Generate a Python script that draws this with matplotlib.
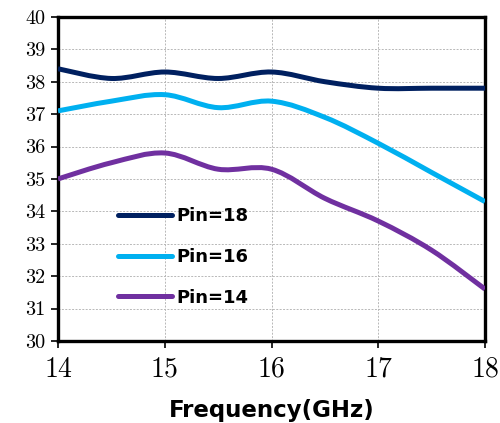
import numpy as np
import matplotlib.pyplot as plt
from matplotlib.path import Path
from matplotlib.patches import PathPatch
from matplotlib.lines import Line2D

# frequency points (GHz)
freq = [14, 14.5, 15, 15.5, 16, 16.5, 17, 17.5, 18]

# output power for each input power level
pin18 = [38.4, 38.1, 38.3, 38.1, 38.3, 38.0, 37.8, 37.8, 37.8]
pin16 = [37.1, 37.4, 37.6, 37.2, 37.4, 36.9, 36.1, 35.2, 34.3]
pin14 = [35.0, 35.5, 35.8, 35.3, 35.3, 34.4, 33.7, 32.8, 31.6]

labels = ['Pin=18', 'Pin=16', 'Pin=14']
colors = ['#002060', '#00B0F0', '#7030A0']


def smooth_path(x, y):
    # Excel-style smoothed line: cubic Bezier segments through the points
    pts = np.column_stack([x, y]).astype(float)
    n = len(pts)
    verts = [pts[0]]
    codes = [Path.MOVETO]
    for i in range(n - 1):
        p0 = pts[max(i - 1, 0)]
        p1 = pts[i]
        p2 = pts[i + 1]
        p3 = pts[min(i + 2, n - 1)]
        c1 = p1 + (p2 - p0) / 6
        c2 = p2 - (p3 - p1) / 6
        verts += [c1, c2, p2]
        codes += [Path.CURVE4] * 3
    return Path(verts, codes)


fig = plt.figure(figsize=(5, 4.23), dpi=100)
ax = fig.add_axes([0.116, 0.194, 0.854, 0.766])

for ys, c in zip([pin18, pin16, pin14], colors):
    patch = PathPatch(smooth_path(freq, ys), facecolor='none', edgecolor=c,
                      lw=3.6, capstyle='butt', zorder=3)
    ax.add_patch(patch)

ax.set_xlim(14, 18)
ax.set_ylim(30, 40)
ax.set_xticks([14, 15, 16, 17, 18])
ax.set_yticks(range(30, 41))

ax.grid(True, color='#b8b8b8', linestyle=(0, (2, 1.5)), linewidth=0.7)
ax.set_axisbelow(True)

for s in ax.spines.values():
    s.set_linewidth(2.4)
    s.set_color('black')

ax.tick_params(axis='both', direction='out', length=5, width=1.2, colors='black')
for t in ax.get_xticklabels():
    t.set_fontfamily('cmr10')
    t.set_fontsize(20)
for t in ax.get_yticklabels():
    t.set_fontfamily('cmr10')
    t.set_fontsize(14.5)
ax.tick_params(axis='x', pad=6)
ax.tick_params(axis='y', pad=4)

ax.set_xlabel('Frequency(GHz)', fontsize=16.5, fontweight='bold',
              fontfamily='DejaVu Sans', labelpad=12)

handles = [Line2D([0], [0], color=c, lw=3.6, solid_capstyle='round') for c in colors]
ax.legend(handles, labels, loc='center left', bbox_to_anchor=(0.14, 0.259),
          frameon=False, borderpad=0, borderaxespad=0, handlelength=3.0,
          handletextpad=0.25, labelspacing=1.25,
          prop={'family': 'DejaVu Sans', 'weight': 'bold', 'size': 13})

fig.savefig('out.png', dpi=100)
